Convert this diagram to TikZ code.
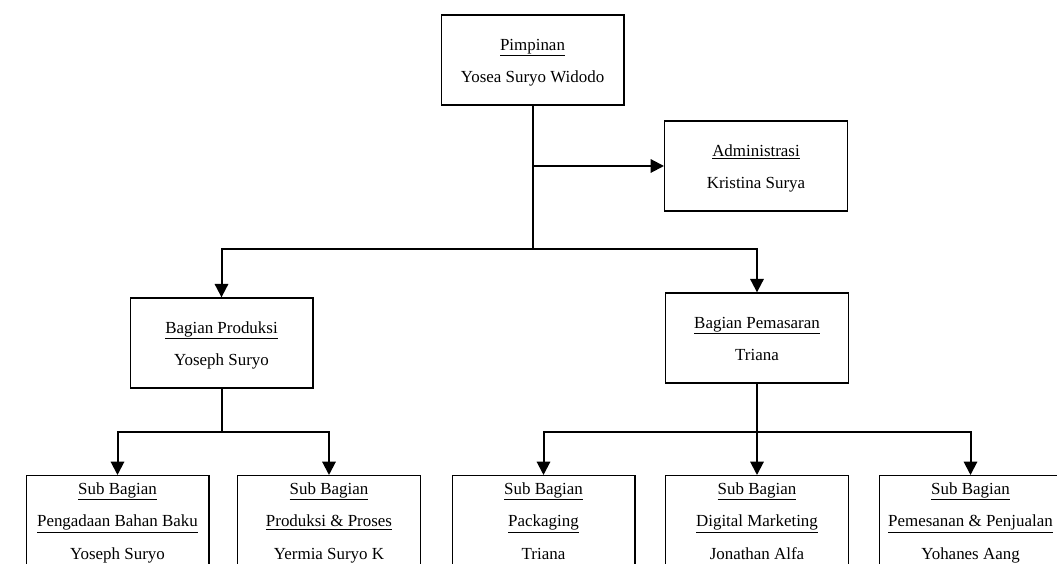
\documentclass[tikz,border=0pt]{standalone}
\usepackage{fontspec}
\setmainfont{Liberation Serif}
\usepackage{tikz}
\usetikzlibrary{arrows.meta, positioning}
\tikzset{>={Triangle[length=10pt,width=10pt]}}

\begin{document}
\begin{tikzpicture}[x=0.75pt,y=-0.75pt,
    kotak/.style={draw, line width=1pt, minimum width=137pt, minimum height=67.5pt,
      inner sep=0pt, align=center, font=\fontsize{12.7}{24.5}\selectfont},
    subkotak/.style={kotak, anchor=north, inner ysep=5pt},
    garis/.style={line width=1.5pt}]
  \useasboundingbox (0,0) rectangle (1057,566);
  \clip (0,0) rectangle (1057,563.5);
  % level atas
  \node [kotak] (pimpinan) at (532.5,60) {\strut\underline{Pimpinan}\\Yosea Suryo Widodo\strut};
  \node [kotak] (admin) at (756,166) {\strut\underline{Administrasi}\\Kristina Surya\strut};
  % bagian
  \node [kotak] (produksi) at (221.5,343) {\strut\underline{Bagian Produksi}\\Yoseph Suryo\strut};
  \node [kotak] (pemasaran) at (757,338) {\strut\underline{Bagian Pemasaran}\\Triana\strut};
  % sub bagian
  \node [subkotak] (sub1) at (117.5,475) {\underline{Sub Bagian}\\\underline{Pengadaan Bahan Baku}\\Yoseph Suryo\strut};
  \node [subkotak] (sub2) at (329,475) {\underline{Sub Bagian}\\\underline{Produksi \& Proses}\\Yermia Suryo K\strut};
  \node [subkotak] (sub3) at (543.5,475) {\underline{Sub Bagian}\\\underline{Packaging}\\Triana\strut};
  \node [subkotak] (sub4) at (757,475) {\underline{Sub Bagian}\\\underline{Digital Marketing}\\Jonathan Alfa\strut};
  \node [subkotak] (sub5) at (970.5,475) {\underline{Sub Bagian}\\\underline{Pemesanan \& Penjualan}\\Yohanes Aang\strut};
  % garis
  \coordinate (cabang1) at (532.5,249);
  \coordinate (cabang2) at (221.5,432);
  \coordinate (cabang3) at (757,432);
  \draw [garis] (pimpinan.south) -- (cabang1);
  \draw [garis,->] (admin.west -| pimpinan.south) -- (admin.west);
  \draw [garis,->] (cabang1) -| (produksi.north);
  \draw [garis,->] (cabang1) -| (pemasaran.north);
  \draw [garis] (produksi.south) -- (cabang2);
  \draw [garis,->] (cabang2) -| (sub1.north);
  \draw [garis,->] (cabang2) -| (sub2.north);
  \draw [garis] (pemasaran.south) -- (cabang3);
  \draw [garis,->] (cabang3) -| (sub3.north);
  \draw [garis,->] (cabang3) -- (sub4.north);
  \draw [garis,->] (cabang3) -| (sub5.north);
\end{tikzpicture}
\end{document}
